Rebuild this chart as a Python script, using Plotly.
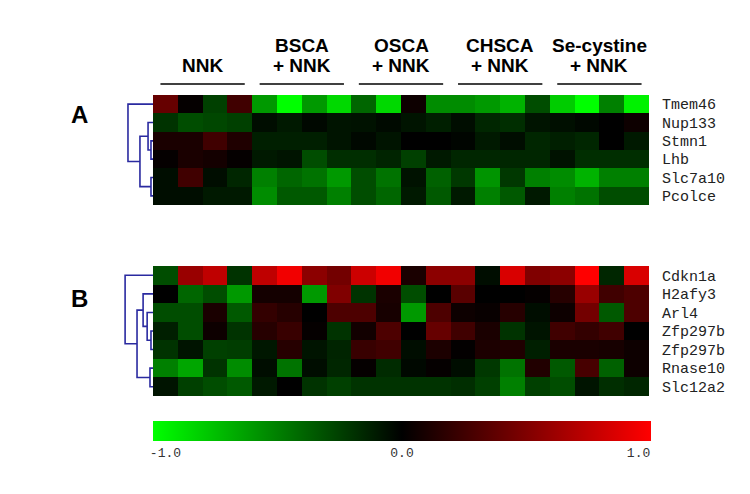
import plotly.graph_objects as go

# ---------------- data ----------------
group_line1 = ["", "BSCA", "OSCA", "CHSCA", "Se-cystine"]
group_line2 = ["NNK", "+ NNK", "+ NNK", "+ NNK", "+ NNK"]
cols_per_group = 4
columns = list(range(20))

genes_a = ["Tmem46", "Nup133", "Stmn1", "Lhb", "Slc7a10", "Pcolce"]
values_a = [
    [0.40, 0.02, -0.25, 0.25, -0.60, -1.00, -0.60, -0.85, -0.40, -0.85, 0.05, -0.55, -0.55, -0.60, -0.70, -0.30, -0.80, -1.00, -0.50, -0.95],
    [-0.20, -0.30, -0.28, -0.25, -0.05, -0.10, -0.03, -0.08, -0.07, -0.04, -0.08, -0.12, -0.05, -0.15, -0.18, -0.08, -0.06, -0.03, 0.00, 0.05],
    [0.10, 0.10, 0.25, 0.12, -0.12, -0.12, -0.12, -0.08, -0.03, -0.08, 0.00, 0.00, -0.02, -0.10, -0.05, -0.15, -0.12, -0.15, 0.00, -0.10],
    [0.02, 0.10, 0.08, 0.02, -0.10, -0.08, -0.30, -0.18, -0.18, -0.14, -0.25, -0.10, -0.15, -0.15, -0.15, -0.15, -0.07, -0.18, -0.18, -0.18],
    [-0.05, 0.25, -0.05, -0.15, -0.50, -0.40, -0.45, -0.60, -0.30, -0.45, -0.07, -0.38, -0.22, -0.58, -0.22, -0.50, -0.55, -0.70, -0.50, -0.50],
    [-0.05, -0.05, -0.10, -0.10, -0.55, -0.35, -0.35, -0.50, -0.30, -0.40, -0.10, -0.35, -0.10, -0.50, -0.35, -0.10, -0.50, -0.45, -0.30, -0.30],
]

genes_b = ["Cdkn1a", "H2afy3", "Arl4", "Zfp297b", "Zfp297b", "Rnase10", "Slc12a2"]
values_b = [
    [-0.30, 0.60, 0.75, -0.20, 0.75, 0.95, 0.55, 0.45, 0.80, 0.95, 0.10, 0.55, 0.55, -0.05, 0.85, 0.50, 0.55, 1.00, -0.15, 0.85],
    [0.00, -0.40, -0.30, -0.60, 0.08, 0.08, -0.60, 0.50, -0.20, 0.10, -0.30, 0.00, 0.35, 0.00, 0.00, 0.02, 0.15, 0.60, 0.25, 0.30],
    [-0.30, -0.30, 0.10, -0.35, 0.20, 0.15, 0.00, 0.30, 0.30, 0.09, -0.60, 0.30, 0.05, 0.03, 0.15, -0.05, 0.05, 0.45, -0.35, 0.30],
    [-0.12, -0.30, 0.05, -0.20, 0.15, 0.22, 0.02, -0.20, 0.07, 0.30, 0.00, 0.40, 0.25, 0.10, -0.20, -0.08, 0.25, 0.20, 0.25, 0.00],
    [-0.20, -0.08, -0.25, -0.24, -0.09, 0.15, -0.08, -0.14, 0.22, 0.25, -0.05, 0.11, 0.01, 0.11, 0.12, -0.12, 0.10, 0.10, 0.09, 0.05],
    [-0.50, -0.65, -0.20, -0.55, -0.05, -0.45, -0.05, -0.15, 0.02, -0.17, -0.03, 0.02, -0.05, -0.22, -0.45, 0.13, -0.35, 0.28, -0.38, 0.05],
    [-0.08, -0.25, -0.30, -0.35, -0.10, 0.00, -0.20, -0.25, -0.20, -0.20, -0.20, -0.20, -0.18, -0.25, -0.50, -0.25, -0.30, -0.08, -0.18, -0.15],
]

# dendrogram linkages: (child1, child2, height); leaves are row indices
linkage_a = [(2, 3, 0.045), (1, 6, 0.11), (4, 5, 0.045), (7, 8, 0.29), (0, 9, 0.556)]
linkage_b = [(3, 4, 0.045), (2, 7, 0.13), (1, 8, 0.22), (5, 6, 0.067), (9, 10, 0.355), (0, 11, 0.62)]

scale_ticks = ["-1.0", "0.0", "1.0"]

# ---------------- layout helpers ----------------
W, H = 750, 494
def px_x(p): return p / W
def px_y(p): return 1 - p / H

hm_x = [px_x(145), px_x(641)]
a_y = [px_y(197), px_y(87)]
b_y = [px_y(388), px_y(258)]
dendro_x = [px_x(100), px_x(145)]

colorscale = [[0.0, "#00ff00"], [0.5, "#000000"], [1.0, "#ff0000"]]
label_font = dict(family="Courier New, Liberation Mono, monospace", size=15, color="#222222")
tick_font = dict(family="Courier New, Liberation Mono, monospace", size=13, color="#333333")


def dendro_lines(linkage, n):
    pos = {i: (float(i), 0.0) for i in range(n)}
    xs, ys = [], []
    for k, (c1, c2, h) in enumerate(linkage):
        y1, h1 = pos[c1]
        y2, h2 = pos[c2]
        xs += [h1, h, h, h2, None]
        ys += [y1, y1, y2, y2, None]
        pos[n + k] = ((y1 + y2) / 2, h)
    return xs, ys


fig = go.Figure()

fig.add_trace(go.Heatmap(
    z=values_a, x=columns, y=list(range(len(genes_a))), xaxis="x", yaxis="y",
    colorscale=colorscale, zmin=-1, zmax=1, showscale=True,
    colorbar=dict(orientation="h", x=(px_x(145) + px_x(643)) / 2, xanchor="center",
                  y=px_y(413), yanchor="top", len=(643 - 145) / W, lenmode="fraction",
                  thickness=20, outlinewidth=0, xpad=0, ypad=0,
                  tickvals=[-0.95, 0, 0.95], ticktext=scale_ticks, ticks="",
                  tickfont=tick_font),
))
fig.add_trace(go.Heatmap(
    z=values_b, x=columns, y=list(range(len(genes_b))), xaxis="x2", yaxis="y2",
    colorscale=colorscale, zmin=-1, zmax=1, showscale=False,
))

for lk, n, xa, ya in [(linkage_a, len(genes_a), "x3", "y3"), (linkage_b, len(genes_b), "x4", "y4")]:
    xs, ys = dendro_lines(lk, n)
    fig.add_trace(go.Scatter(x=xs, y=ys, xaxis=xa, yaxis=ya, mode="lines",
                             line=dict(color="#2a2aa0", width=1.6), hoverinfo="skip",
                             showlegend=False))

hidden = dict(showgrid=False, zeroline=False, showticklabels=False, ticks="", showline=False)

fig.update_layout(
    width=W, height=H, margin=dict(l=0, r=0, t=0, b=0),
    paper_bgcolor="white", plot_bgcolor="white", showlegend=False,
    xaxis=dict(domain=hm_x, range=[-0.5, 19.5], **hidden),
    yaxis=dict(domain=a_y, range=[len(genes_a) - 0.5, -0.5], side="right",
               tickvals=list(range(len(genes_a))), ticktext=genes_a, tickfont=label_font,
               showgrid=False, zeroline=False, ticks="outside", ticklen=9, tickcolor="white"),
    xaxis2=dict(domain=hm_x, range=[-0.5, 19.5], anchor="y2", **hidden),
    yaxis2=dict(domain=b_y, range=[len(genes_b) - 0.5, -0.5], side="right", anchor="x2",
                tickvals=list(range(len(genes_b))), ticktext=genes_b, tickfont=label_font,
                showgrid=False, zeroline=False, ticks="outside", ticklen=9, tickcolor="white"),
    xaxis3=dict(domain=dendro_x, range=[1.0, 0.0], anchor="y3", **hidden),
    yaxis3=dict(domain=a_y, range=[len(genes_a) - 0.5, -0.5], anchor="x3", **hidden),
    xaxis4=dict(domain=dendro_x, range=[1.0, 0.0], anchor="y4", **hidden),
    yaxis4=dict(domain=b_y, range=[len(genes_b) - 0.5, -0.5], anchor="x4", **hidden),
)

head_font = dict(family="Arial, Liberation Sans, sans-serif", size=19, color="black")
annotations = []
shapes = []
for g in range(len(group_line2)):
    cx = g * cols_per_group + (cols_per_group - 1) / 2
    if group_line1[g]:
        annotations.append(dict(x=cx, xref="x", y=px_y(38), yref="paper", xanchor="center",
                                yanchor="middle", text="<b>" + group_line1[g] + "</b>",
                                showarrow=False, font=head_font))
    annotations.append(dict(x=cx, xref="x", y=px_y(57), yref="paper", xanchor="center",
                            yanchor="middle", text="<b>" + group_line2[g] + "</b>",
                            showarrow=False, font=head_font))
    shapes.append(dict(type="line", xref="x", yref="paper", x0=cx - 1.7, x1=cx + 1.7,
                       y0=px_y(76), y1=px_y(76), line=dict(color="black", width=1.5)))

letter_font = dict(family="Arial, Liberation Sans, sans-serif", size=24, color="black")
annotations.append(dict(x=px_x(71), y=px_y(106), xref="paper", yref="paper", text="<b>A</b>",
                        xanchor="center", yanchor="middle", showarrow=False, font=letter_font))
annotations.append(dict(x=px_x(71), y=px_y(290), xref="paper", yref="paper", text="<b>B</b>",
                        xanchor="center", yanchor="middle", showarrow=False, font=letter_font))

fig.update_layout(annotations=annotations, shapes=shapes)

fig.write_html("out.html")
